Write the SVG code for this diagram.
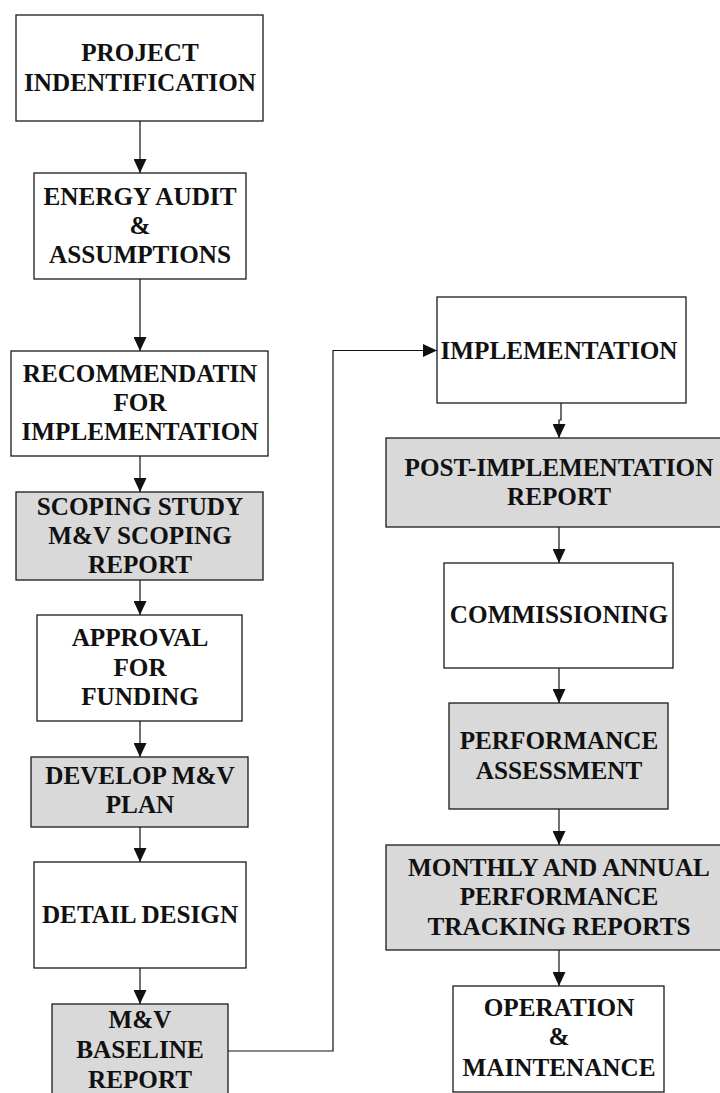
<svg xmlns="http://www.w3.org/2000/svg" width="720" height="1093" viewBox="0 0 720 1093">
  <style>
    .box { fill: #ffffff; stroke: #1a1a1a; stroke-width: 1.3; }
    .shade { fill: #d9d9d9; stroke: #1a1a1a; stroke-width: 1.3; }
    .lbl { font-family: "Liberation Serif", "Times New Roman", serif; font-weight: bold; font-size: 25.2px; fill: #111111; text-anchor: middle; }
    .wire { fill: none; stroke: #111111; stroke-width: 1.2; }
  </style>
  <defs>
    <marker id="head" markerUnits="userSpaceOnUse" markerWidth="14" markerHeight="13" refX="14" refY="6.5" orient="auto">
      <path d="M0,0 L14,6.5 L0,13 z" fill="#111111"/>
    </marker>
  </defs>
  <rect width="720" height="1093" fill="#ffffff"/>

  <!-- connectors -->
  <g id="connectors">
    <path class="wire" d="M140,121 V173" marker-end="url(#head)"/>
    <path class="wire" d="M140,279 V351" marker-end="url(#head)"/>
    <path class="wire" d="M140,456 V492" marker-end="url(#head)"/>
    <path class="wire" d="M140,580 V615" marker-end="url(#head)"/>
    <path class="wire" d="M140,721 V757" marker-end="url(#head)"/>
    <path class="wire" d="M140,827 V862" marker-end="url(#head)"/>
    <path class="wire" d="M140,968 V1004" marker-end="url(#head)"/>
    <path class="wire" d="M228,1051 H333 V350.5 H437" marker-end="url(#head)"/>
    <path class="wire" d="M561,403 V420 H559 V438" marker-end="url(#head)"/>
    <path class="wire" d="M559,527 V563" marker-end="url(#head)"/>
    <path class="wire" d="M559,668 V703" marker-end="url(#head)"/>
    <path class="wire" d="M559,809 V845" marker-end="url(#head)"/>
    <path class="wire" d="M559,950 V986" marker-end="url(#head)"/>
  </g>

  <!-- left column -->
  <g id="project-identification">
    <rect class="box" x="16" y="15" width="247" height="106"/>
    <text class="lbl" x="140" y="61.3">PROJECT</text>
    <text class="lbl" x="140" y="90.7">INDENTIFICATION</text>
  </g>
  <g id="energy-audit">
    <rect class="box" x="34" y="173" width="212" height="106"/>
    <text class="lbl" x="140" y="204.5">ENERGY AUDIT</text>
    <text class="lbl" x="140" y="233.7">&amp;</text>
    <text class="lbl" x="140" y="263.3">ASSUMPTIONS</text>
  </g>
  <g id="recommendation">
    <rect class="box" x="11" y="351" width="257" height="105"/>
    <text class="lbl" x="140" y="381.8">RECOMMENDATIN</text>
    <text class="lbl" x="140" y="410.8">FOR</text>
    <text class="lbl" x="140" y="440">IMPLEMENTATION</text>
  </g>
  <g id="scoping-study">
    <rect class="shade" x="16" y="492" width="247" height="88"/>
    <text class="lbl" x="140" y="514.6">SCOPING STUDY</text>
    <text class="lbl" x="140" y="543.8">M&amp;V SCOPING</text>
    <text class="lbl" x="140" y="573">REPORT</text>
  </g>
  <g id="approval">
    <rect class="box" x="37" y="615" width="205" height="106"/>
    <text class="lbl" x="140" y="646.3">APPROVAL</text>
    <text class="lbl" x="140" y="675.6">FOR</text>
    <text class="lbl" x="140" y="705.2">FUNDING</text>
  </g>
  <g id="develop-plan">
    <rect class="shade" x="31" y="757" width="217" height="70"/>
    <text class="lbl" x="140" y="784">DEVELOP M&amp;V</text>
    <text class="lbl" x="140" y="813.3">PLAN</text>
  </g>
  <g id="detail-design">
    <rect class="box" x="34" y="862" width="212" height="106"/>
    <text class="lbl" x="140" y="923.3">DETAIL DESIGN</text>
  </g>
  <g id="baseline-report">
    <rect class="shade" x="52" y="1004" width="176" height="100"/>
    <text class="lbl" x="140" y="1028.3">M&amp;V</text>
    <text class="lbl" x="140" y="1058">BASELINE</text>
    <text class="lbl" x="140" y="1087.5">REPORT</text>
  </g>

  <!-- right column -->
  <g id="implementation">
    <rect class="box" x="437" y="297" width="249" height="106"/>
    <text class="lbl" x="559" y="358.5">IMPLEMENTATION</text>
  </g>
  <g id="post-implementation">
    <rect class="shade" x="386" y="438" width="340" height="89"/>
    <text class="lbl" x="559" y="475.6">POST-IMPLEMENTATION</text>
    <text class="lbl" x="559" y="505">REPORT</text>
  </g>
  <g id="commissioning">
    <rect class="box" x="444" y="563" width="229" height="105"/>
    <text class="lbl" x="559" y="623.3">COMMISSIONING</text>
  </g>
  <g id="performance-assessment">
    <rect class="shade" x="449" y="703" width="219" height="106"/>
    <text class="lbl" x="559" y="749.3">PERFORMANCE</text>
    <text class="lbl" x="559" y="778.5">ASSESSMENT</text>
  </g>
  <g id="tracking-reports">
    <rect class="shade" x="386" y="845" width="340" height="105"/>
    <text class="lbl" x="559" y="875.5">MONTHLY AND ANNUAL</text>
    <text class="lbl" x="559" y="905">PERFORMANCE</text>
    <text class="lbl" x="559" y="934.8">TRACKING REPORTS</text>
  </g>
  <g id="operation-maintenance">
    <rect class="box" x="453" y="986" width="211" height="106"/>
    <text class="lbl" x="559" y="1016">OPERATION</text>
    <text class="lbl" x="559" y="1045">&amp;</text>
    <text class="lbl" x="559" y="1075.5">MAINTENANCE</text>
  </g>
</svg>
